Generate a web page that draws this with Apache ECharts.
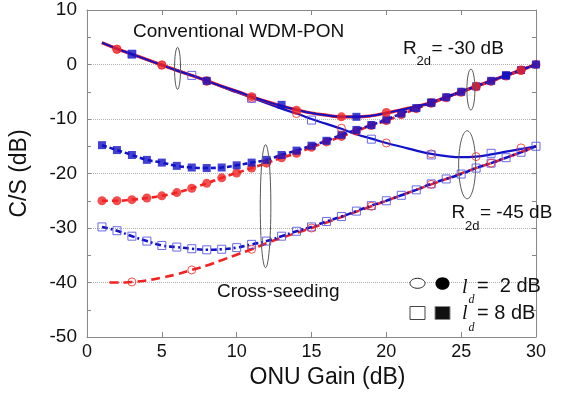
<!DOCTYPE html>
<html>
<head>
<meta charset="utf-8">
<script src="https://cdn.jsdelivr.net/npm/echarts@6/dist/echarts.min.js"></script>
<style>
  html, body { margin: 0; padding: 0; background: #fff; }
  #chart { width: 564px; height: 401px; }
</style>
</head>
<body>
<div id="chart"></div>
<script>
// ONU gain (dB), one point per dB
const gain = [1, 2, 3, 4, 5, 6, 7, 8, 9, 10, 11, 12, 13, 14, 15, 16, 17, 18, 19, 20, 21, 22, 23, 24, 25, 26, 27, 28, 29, 30];

// cross-seeding, R2d = -30 dB
const crossBlue30 = [-14.8, -15.7, -16.6, -17.5, -18.0, -18.6, -18.9, -19.0, -18.9, -18.5, -18.0, -17.5, -16.6, -15.8, -14.9, -14.0, -12.9, -12.0, -11.1, -10.1, -9.0, -8.0, -7.0, -6.0, -5.0, -4.0, -3.0, -2.0, -1.0, 0];
const crossRed30 = [-25.0, -25.0, -24.8, -24.5, -24.1, -23.5, -22.7, -21.8, -20.8, -19.9, -19.0, -18.1, -17.1, -16.3, -15.2, -14.2, -13.2, -12.2, -11.2, -10.3, -9.2, -8.1, -7.1, -6.1, -5.1, -4.1, -3.1, -2.1, -1.1, 0];

// cross-seeding, R2d = -45 dB
const crossBlue45 = [-29.8, -30.5, -31.5, -32.4, -33.2, -33.5, -33.8, -34.0, -33.9, -33.6, -33.0, -32.4, -31.5, -30.6, -29.8, -28.8, -27.9, -26.9, -25.9, -25.0, -24.0, -23.0, -21.9, -21.0, -20.1, -19.0, -18.1, -17.1, -16.1, -15.0];
const crossRed45FitX = [1.5, 2, 3, 4, 5, 6, 7, 8, 9, 10, 11, 12, 13, 14, 15, 16, 17, 18, 19, 20, 21, 22, 23, 24, 25, 26, 27, 28, 29, 30];
const crossRed45Fit = [-40.0, -40.0, -39.9, -39.6, -39.1, -38.5, -37.7, -36.9, -35.9, -34.9, -33.9, -32.8, -31.8, -30.9, -30.0, -29.0, -28.0, -27.0, -26.0, -25.0, -24.0, -23.0, -22.0, -21.0, -20.0, -19.0, -18.1, -17.1, -16.1, -15.0];
const crossRed45X = [3, 7, 11, 15, 19, 23, 27];
const crossRed45 = [-39.9, -37.7, -33.9, -30.0, -26.0, -22.0, -18.1];

// conventional WDM-PON fits
const conv30Fit = [4.0, 2.9, 1.9, 0.9, -0.1, -1.1, -2.0, -3.0, -4.0, -4.9, -5.9, -6.8, -7.6, -8.3, -8.9, -9.3, -9.6, -9.6, -9.4, -8.9, -8.3, -7.7, -7.0, -6.0, -5.0, -4.0, -3.0, -2.0, -1.0, 0];
const conv45Fit = [4.0, 2.9, 1.9, 0.9, -0.1, -1.0, -2.0, -3.0, -4.1, -5.1, -6.1, -7.1, -8.1, -9.0, -10.0, -10.9, -11.8, -12.8, -13.6, -14.4, -15.1, -15.8, -16.4, -16.8, -17.0, -16.9, -16.5, -16.0, -15.5, -15.0];

// conventional WDM-PON measured points
const conv30RedX = [2, 5, 8, 11, 14, 17, 20, 23, 26, 29];
const conv30Red = [2.8, -0.1, -3.0, -5.9, -8.4, -9.6, -8.8, -7.0, -4.0, -1.0];
const conv30BlueX = [3, 8, 13, 18, 23, 28];
const conv30Blue = [1.9, -3.0, -7.4, -9.6, -7.0, -2.0];
const conv45RedX = [2, 5, 8, 11, 14, 17, 20, 23, 26, 29];
const conv45Red = [2.8, -0.1, -3.1, -6.2, -9.0, -11.7, -14.4, -16.4, -16.9, -15.3];
const conv45BlueX = [3, 7, 11, 15, 19, 23, 27];
const conv45Blue = [1.9, -2.0, -6.2, -10.2, -13.7, -16.6, -16.3];

const RED = "#f22222";
const BLUE = "#1212c8";
const OPEN_BLUE = "#4646e6";
const FONT = "Liberation Sans, Arial, sans-serif";
const SERIF = "Liberation Serif, Times New Roman, serif";

function pairs(xs, ys) {
  return xs.map((x, i) => [x, ys[i]]);
}

let myChart = echarts.init(document.getElementById("chart"));

function fit(data, color, width, type) {
  return {
    type: "line",
    data: data,
    smooth: true,
    showSymbol: false,
    symbol: "none",
    z: 2,
    lineStyle: { color: color, width: width, type: type },
  };
}

function marks(data, symbol, size, color, filled) {
  return {
    type: "scatter",
    data: data,
    symbol: symbol,
    symbolSize: size,
    z: 4,
    itemStyle: filled
      ? { color: color }
      : { color: "rgba(255,255,255,0)", borderColor: color, borderWidth: 1 },
  };
}

let option = {
  animation: false,
  grid: { left: 86, right: 28, top: 10, bottom: 64 },
  xAxis: [
    {
      type: "value",
      min: 0,
      max: 30,
      interval: 5,
      name: "ONU Gain (dB)",
      nameLocation: "middle",
      nameGap: 28,
      nameTextStyle: { fontSize: 23, fontFamily: FONT, color: "#111", padding: [0, 0, 0, 32] },
      axisLine: { onZero: false, lineStyle: { color: "#888", width: 1 } },
      axisTick: { inside: true, length: 5, lineStyle: { color: "#888" } },
      axisLabel: { fontSize: 18, fontFamily: FONT, color: "#111", margin: 6 },
      splitLine: { show: false },
    },
    {
      type: "value",
      position: "top",
      min: 0,
      max: 30,
      interval: 5,
      axisLine: { onZero: false, lineStyle: { color: "#888", width: 1 } },
      axisTick: { inside: true, length: 5, lineStyle: { color: "#888" } },
      axisLabel: { show: false },
      splitLine: { show: false },
    },
  ],
  yAxis: [
    {
      type: "value",
      min: -50,
      max: 10,
      interval: 10,
      name: "C/S (dB)",
      nameLocation: "middle",
      nameGap: 56,
      nameTextStyle: { fontSize: 23, fontFamily: FONT, color: "#111" },
      axisLine: { onZero: false, lineStyle: { color: "#888", width: 1 } },
      axisTick: { inside: true, length: 4, lineStyle: { color: "#888" } },
      minorTick: { show: true, splitNumber: 2, length: 4, lineStyle: { color: "#888" } },
      axisLabel: { fontSize: 19, fontFamily: FONT, color: "#111", margin: 10 },
      splitLine: { show: true, lineStyle: { color: "#b0b0b0", type: "dotted", width: 1 } },
    },
    {
      type: "value",
      position: "right",
      min: -50,
      max: 10,
      interval: 5,
      axisLine: { onZero: false, lineStyle: { color: "#888", width: 1 } },
      axisTick: { inside: true, length: 4, lineStyle: { color: "#888" } },
      axisLabel: { show: false },
      splitLine: { show: false },
    },
  ],
  series: [
    // 拟合曲线
    fit(pairs(gain, conv45Fit), BLUE, 2.2, "solid"),
    fit(pairs(gain, conv30Fit), RED, 3.2, "solid"),
    fit(pairs(gain, conv30Fit), BLUE, 2, "solid"),
    fit(pairs(crossRed45FitX, crossRed45Fit), RED, 2.6, [9, 5]),
    fit(pairs(gain, crossBlue45), BLUE, 2.6, [6, 3, 2, 3]),
    fit(pairs(gain, crossRed30), RED, 2.6, [6, 4]),
    fit(pairs(gain, crossBlue30), BLUE, 2.6, [5, 3]),
    // 测量点
    marks(pairs(gain, crossRed30), "circle", 9, RED, true),
    marks(pairs(gain, crossBlue30), "rect", 8, BLUE, true),
    marks(pairs(gain, crossBlue45), "rect", 8, OPEN_BLUE, false),
    marks(pairs(crossRed45X, crossRed45), "circle", 8, RED, false),
    marks(pairs(conv45RedX, conv45Red), "circle", 8, RED, false),
    marks(pairs(conv45BlueX, conv45Blue), "rect", 8, OPEN_BLUE, false),
    marks(pairs(conv30RedX, conv30Red), "circle", 9, RED, true),
    marks(pairs(conv30BlueX, conv30Blue), "rect", 8, BLUE, true),
  ],
};
myChart.setOption(option);

// 注释：椭圆、文字、图例
function at(x, y) {
  return myChart.convertToPixel({ xAxisIndex: 0, yAxisIndex: 0 }, [x, y]);
}
function ring(x, y, rx, ry) {
  let p = at(x, y);
  return {
    type: "ellipse",
    z: 10,
    shape: { cx: p[0], cy: p[1], rx: rx, ry: ry },
    style: { fill: "none", stroke: "#555", lineWidth: 1 },
  };
}
function label(text, x, y, size, family, italic) {
  return {
    type: "text",
    z: 10,
    style: {
      text: text,
      x: x,
      y: y,
      font: (italic ? "italic " : "") + size + "px " + family,
      fill: "#111",
      textAlign: "left",
      textVerticalAlign: "middle",
      align: "left",
      verticalAlign: "middle",
    },
  };
}

myChart.setOption({
  graphic: [
    ring(6.05, -0.7, 3, 21),
    ring(25.65, -4.6, 4, 20.5),
    ring(25.4, -18.4, 8.5, 34),
    ring(11.93, -26.0, 5.3, 61.5),
    label("Conventional WDM-PON", 133, 32, 19, FONT),
    label("R", 403, 49, 19, FONT),
    label("2d", 416.5, 61.5, 13, FONT),
    label("= -30 dB", 431.5, 49, 19, FONT),
    label("R", 451.5, 213, 19, FONT),
    label("2d", 465, 226, 13, FONT),
    label("= -45 dB", 480, 213, 19, FONT),
    label("Cross-seeding", 217, 291.5, 19, FONT),
    // 图例
    {
      type: "ellipse",
      z: 10,
      shape: { cx: 417.5, cy: 283.3, rx: 7.5, ry: 5 },
      style: { fill: "#fff", stroke: "#222", lineWidth: 1 },
    },
    {
      type: "ellipse",
      z: 10,
      shape: { cx: 442.5, cy: 283.5, rx: 7, ry: 6.3 },
      style: { fill: "#000" },
    },
    {
      type: "rect",
      z: 10,
      shape: { x: 410, y: 306.5, width: 15, height: 13 },
      style: { fill: "#fff", stroke: "#444", lineWidth: 1 },
    },
    {
      type: "rect",
      z: 10,
      shape: { x: 435, y: 306.5, width: 15, height: 13 },
      style: { fill: "#111", stroke: "#888", lineWidth: 1 },
    },
    label("l", 462, 288, 20, SERIF, true),
    label("d", 468.5, 299.5, 12, SERIF, true),
    label("=  2 dB", 477, 286.7, 20, FONT),
    label("l", 462, 313.3, 20, SERIF, true),
    label("d", 468.5, 328, 12, SERIF, true),
    label("= 8 dB", 477, 313.3, 20, FONT),
  ],
});
</script>
</body>
</html>
